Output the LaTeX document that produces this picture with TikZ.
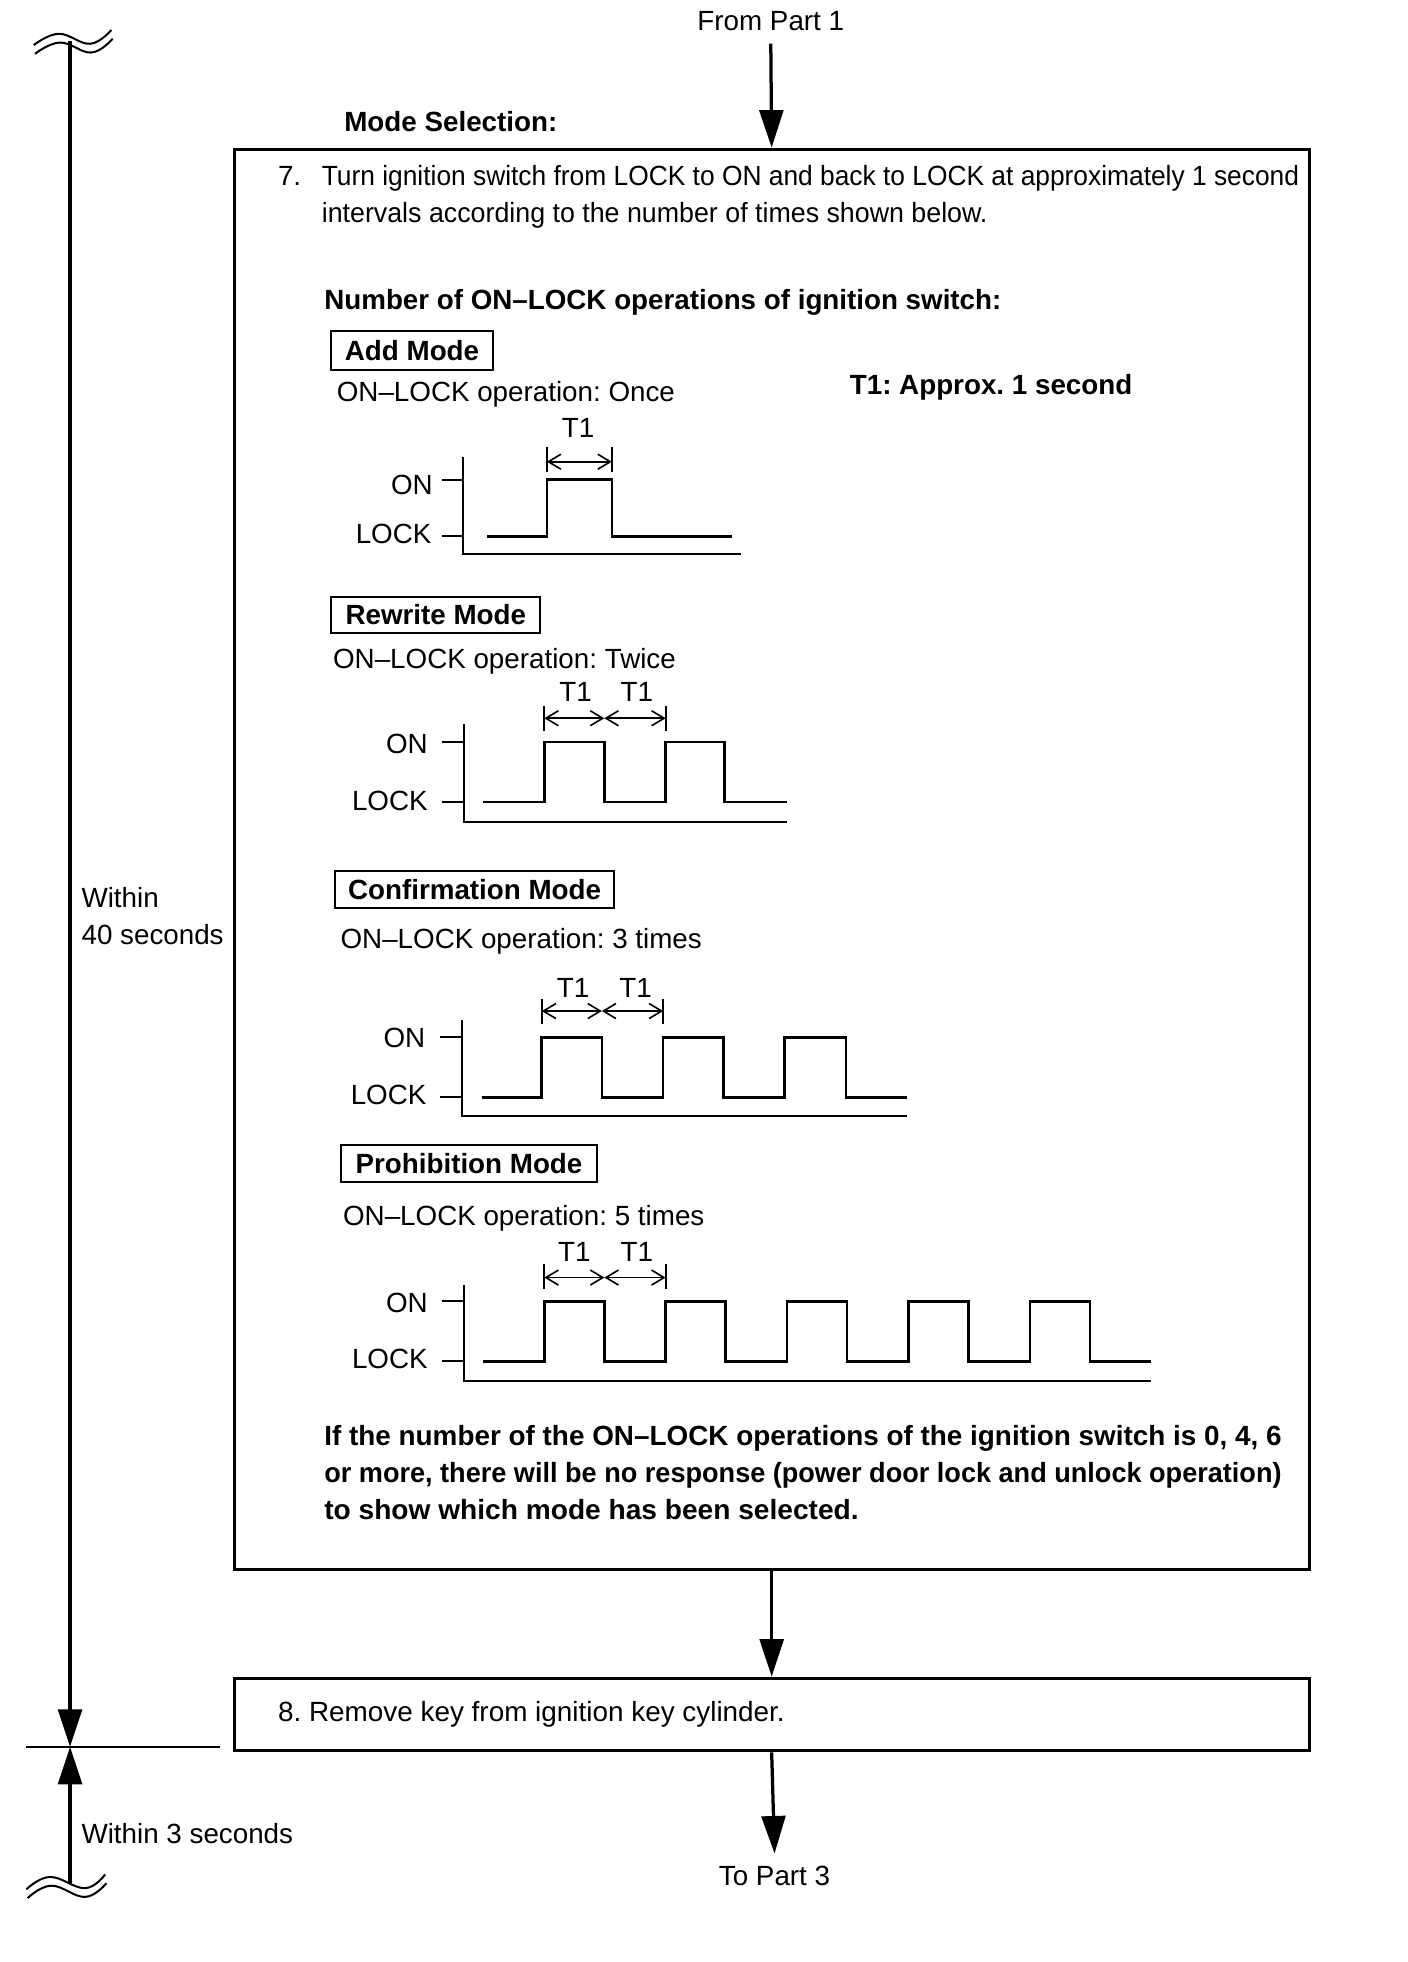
\documentclass[tikz,border=0pt]{standalone}
\usepackage{fontspec}
\setmainfont{Liberation Sans}
\usetikzlibrary{arrows.meta}
\newcommand{\fitw}[2]{\resizebox{#1pt}{\height}{#2}}
\begin{document}
\frenchspacing
\begin{tikzpicture}[x=1pt,y=-1pt,
  txt/.style={font=\fontsize{22.2}{26}\selectfont, inner sep=0pt},
  btxt/.style={font=\fontsize{22.2}{26}\selectfont\bfseries, inner sep=0pt},
  flowbox/.style={draw, line width=2.4pt, inner sep=0pt},
  modebox/.style={draw, line width=1.6pt, inner sep=0pt, font=\fontsize{22.2}{26}\selectfont\bfseries},
  flowarrow/.style={line width=2.6pt, -{Triangle[length=30pt,width=19pt]}},
  sig/.style={line width=2.1pt},
  axisline/.style={line width=1.6pt},
  dimline/.style={line width=1.3pt},
  dimarrow/.style={line width=1.3pt, {Straight Barb[length=10pt,width=12pt]}-{Straight Barb[length=10pt,width=12pt]}},
  brk/.style={line width=1.6pt},
  timeline/.style={line width=3pt, -{Triangle[length=30pt,width=19pt]}}
]
\useasboundingbox (0,0) rectangle (1125,1568);

% ---- left timing line ----
\coordinate (topbrk) at (56,33);
\coordinate (junc) at (56,1396);
\coordinate (botbrk) at (56,1505);
\coordinate (hl) at (21,1396);
\coordinate (hr) at (176,1396);
\draw[brk] plot[smooth, tension=0.7] coordinates {(27,36) (47,27) (72,35) (89,24)};
\draw[brk] plot[smooth, tension=0.7] coordinates {(28,43) (48,34) (73,42) (90,31)};
\draw[brk] plot[smooth, tension=0.7] coordinates {(21,1510) (40,1500) (68,1509) (84,1498)};
\draw[brk] plot[smooth, tension=0.7] coordinates {(22,1517) (41,1507) (68,1516) (85,1505)};
\draw[timeline] (topbrk) -- (junc);
\draw[timeline] (botbrk) -- (junc);
\draw[axisline] (hl) -- (hr);
\node[txt, anchor=base west] (w40a) at (65,725) {Within};
\node[txt, anchor=base west] (w40b) at (65,755) {40 seconds};
\node[txt, anchor=base west] (w3) at (65,1473) {Within 3 seconds};

% ---- flow ----
\node[txt, anchor=base] (fp1) at (616,24.5) {From Part 1};
\node[btxt, anchor=base west] (modesel) at (275,105) {Mode Selection:};
\node[flowbox, anchor=north west, minimum width=859pt, minimum height=1135pt] (box7) at (186,118) {};
\node[flowbox, anchor=north west, minimum width=859pt, minimum height=58pt] (box8) at (186,1340) {};
\node[txt, anchor=base] (tp3) at (619,1507) {To Part 3};
\draw[flowarrow] ([yshift=-10pt]fp1.south) -- (box7.north);
\draw[flowarrow] (box7.south) -- (box8.north);
\draw[flowarrow] (box8.south) -- ([yshift=10pt]tp3.north);

\node[txt, anchor=base west] (n8) at (222,1376) {\fitw{405}{8. Remove key from ignition key cylinder.}};

% ---- step 7 text ----
\node[txt, anchor=base west] (n7) at (222,148) {7.};
\node[txt, anchor=base west] (l7a) at (257,148) {\fitw{781}{Turn ignition switch from LOCK to ON and back to LOCK at approximately 1 second}};
\node[txt, anchor=base west] (l7b) at (257,178) {\fitw{532}{intervals according to the number of times shown below.}};
\node[btxt, anchor=base west] (numops) at (259,247) {\fitw{541}{Number of ON–LOCK operations of ignition switch:}};
\node[btxt, anchor=base west] (t1note) at (679,315) {T1: Approx. 1 second};

% ---- Add mode ----
\node[modebox, anchor=north west, minimum width=129pt, minimum height=31pt] (addm) at (264,264) {Add Mode};
\node[txt, anchor=base west] (addop) at (269,321) {ON–LOCK operation: Once};
\node[txt, anchor=base] (addT) at (462,350) {T1};
\node[txt, anchor=base east] (addON) at (346,395) {ON};
\node[txt, anchor=base east] (addLOCK) at (345,434) {LOCK};
\draw[axisline] (370,365) -- (370,443) -- (592,443);
\draw[axisline] (353,384) -- (370,384) (353,428) -- (370,428);
\draw[sig] (389,429) -- (437,429) -- (437,383) -- (489,383) -- (489,429) -- (585,429);
\draw[dimline] (437,357) -- (437,377) (489,357) -- (489,377);
\draw[dimarrow] (437,369) -- (489,369);

% ---- Rewrite mode ----
\node[modebox, anchor=north west, minimum width=167pt, minimum height=29pt] (rwm) at (264,476) {Rewrite Mode};
\node[txt, anchor=base west] (rwop) at (266,534) {ON–LOCK operation: Twice};
\node[txt, anchor=base] (rwT1) at (460,561) {T1};
\node[txt, anchor=base] (rwT2) at (509,561) {T1};
\node[txt, anchor=base east] (rwON) at (342,602) {ON};
\node[txt, anchor=base east] (rwLOCK) at (342,648) {LOCK};
\draw[axisline] (371,579) -- (371,657) -- (629,657);
\draw[axisline] (353,593) -- (371,593) (353,641) -- (371,641);
\draw[sig] (386,641) -- (435,641) -- (435,593) -- (483,593) -- (483,641) -- (532,641) -- (532,593) -- (579,593) -- (579,641) -- (629,641);
\draw[dimline] (435,564) -- (435,584) (532,564) -- (532,584);
\draw[dimarrow] (435,574) -- (483,574);
\draw[dimarrow] (483,574) -- (532,574);

% ---- Confirmation mode ----
\node[modebox, anchor=north west, minimum width=223pt, minimum height=30pt] (cfm) at (267,695) {Confirmation Mode};
\node[txt, anchor=base west] (cfop) at (272,758) {ON–LOCK operation: 3 times};
\node[txt, anchor=base] (cfT1) at (458,797) {T1};
\node[txt, anchor=base] (cfT2) at (508,797) {T1};
\node[txt, anchor=base east] (cfON) at (340,837) {ON};
\node[txt, anchor=base east] (cfLOCK) at (341,883) {LOCK};
\draw[axisline] (369,815) -- (369,892) -- (725,892);
\draw[axisline] (352,829) -- (369,829) (352,877) -- (369,877);
\draw[sig] (385,877) -- (433,877) -- (433,829) -- (481,829) -- (481,877) -- (530,877) -- (530,829) -- (578,829) -- (578,877) -- (627,877) -- (627,829) -- (676,829) -- (676,877) -- (725,877);
\draw[dimline] (433,798) -- (433,818) (530,798) -- (530,818);
\draw[dimarrow] (433,808) -- (481,808);
\draw[dimarrow] (481,808) -- (530,808);

% ---- Prohibition mode ----
\node[modebox, anchor=north west, minimum width=204pt, minimum height=30pt] (phm) at (272,914) {Prohibition Mode};
\node[txt, anchor=base west] (phop) at (274,979) {ON–LOCK operation: 5 times};
\node[txt, anchor=base] (phT1) at (459,1008) {T1};
\node[txt, anchor=base] (phT2) at (509,1008) {T1};
\node[txt, anchor=base east] (phON) at (342,1049) {ON};
\node[txt, anchor=base east] (phLOCK) at (342,1094) {LOCK};
\draw[axisline] (371,1027) -- (371,1104) -- (920,1104);
\draw[axisline] (353,1040) -- (371,1040) (353,1088) -- (371,1088);
\draw[sig] (386,1088) -- (435,1088) -- (435,1040) -- (483,1040) -- (483,1088) -- (532,1088) -- (532,1040) -- (580,1040) -- (580,1088) -- (629,1088) -- (629,1040) -- (677,1040) -- (677,1088) -- (726,1088) -- (726,1040) -- (774,1040) -- (774,1088) -- (823,1088) -- (823,1040) -- (871,1040) -- (871,1088) -- (920,1088);
\draw[dimline] (435,1010) -- (435,1030) (532,1010) -- (532,1030);
\draw[dimarrow] (435,1021) -- (483,1021);
\draw[dimarrow] (483,1021) -- (532,1021);

% ---- note ----
\node[btxt, anchor=base west] (nt1) at (259,1155) {\fitw{765}{If the number of the ON–LOCK operations of the ignition switch is 0, 4, 6}};
\node[btxt, anchor=base west] (nt2) at (259,1185) {\fitw{765}{or more, there will be no response (power door lock and unlock operation)}};
\node[btxt, anchor=base west] (nt3) at (259,1214) {\fitw{427}{to show which mode has been selected.}};
\end{tikzpicture}
\end{document}
